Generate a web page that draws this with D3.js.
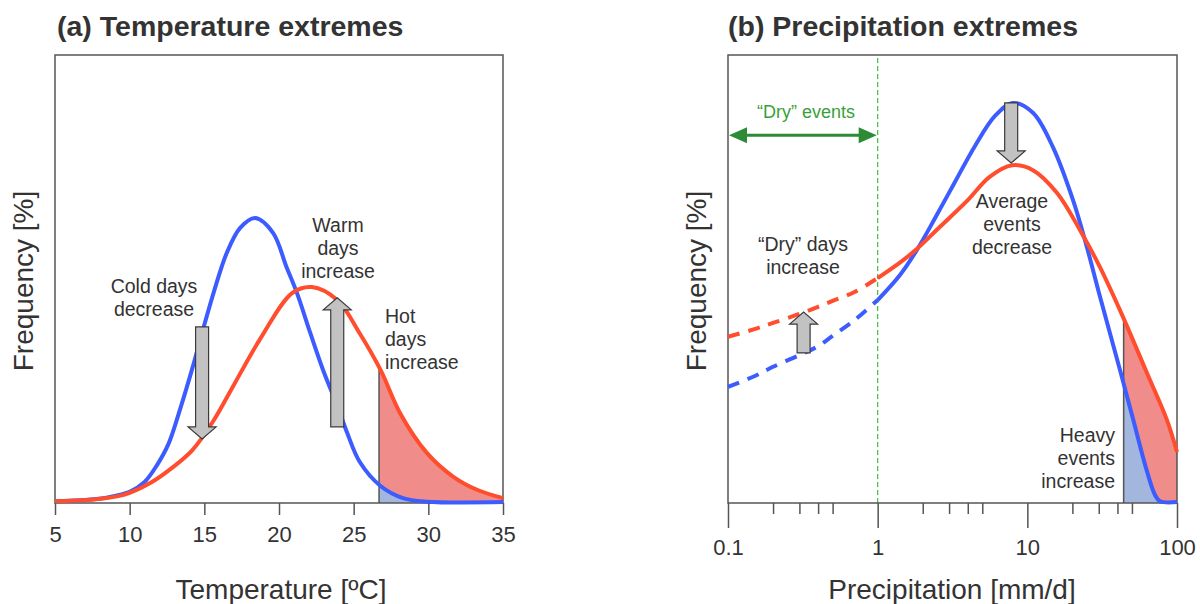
<!DOCTYPE html>
<html>
<head>
<meta charset="utf-8">
<script src="https://cdn.jsdelivr.net/npm/d3@7"></script>
<style>
  body { margin:0; background:#fff; }
  svg text { font-family: "Liberation Sans", Arial, sans-serif; fill:#333; }
</style>
</head>
<body>
<svg id="drawing_region"></svg>
<script>
// (a) temperature
const tempTicks = [5, 10, 15, 20, 25, 30, 35];
const tempBlueT = [5, 7.8, 9.0, 10.0, 11.0, 11.8, 12.6, 13.4, 14.2, 14.9, 15.7, 16.5, 17.4, 18.4, 19.6, 20.5, 21.2, 22.1, 22.95, 23.9, 24.55, 25.4, 26.8, 28.3, 29.9, 35];
const tempBlueF = [0.04, 0.09, 0.16, 0.25, 0.47, 0.83, 1.32, 2.12, 3.01, 3.86, 4.78, 5.58, 6.14, 6.36, 6.03, 5.27, 4.69, 3.79, 2.97, 2.17, 1.58, 0.92, 0.38, 0.11, 0.03, 0.02];
const tempRedT = [5, 7.3, 9.6, 11.4, 12.9, 14.2, 15.6, 16.9, 18.7, 20.9, 22.2, 23.9, 25.4, 26.8, 28.1, 29.9, 31.7, 33.3, 35];
const tempRedF = [0.04, 0.07, 0.18, 0.45, 0.80, 1.18, 1.83, 2.59, 3.64, 4.69, 4.82, 4.53, 3.79, 2.97, 2.01, 1.12, 0.58, 0.29, 0.11];
const tempHot = 26.7;
const tempArrowT = [14.85, 23.9];
const tempArrowFrom = [3.93, 1.70];
const tempArrowTo = [1.43, 4.58];

// (b) precipitation
const precipTicks = [0.1, 1, 10, 100];
const precipMinor = [0.2, 0.3, 0.4, 0.5, 2, 3, 4, 5, 20, 30, 40, 50];
const precipDryP = [0.1, 0.15, 0.2, 0.3, 0.4, 0.5, 0.7, 1];
const precipBlueDryF = [2.59, 2.83, 3.04, 3.30, 3.50, 3.73, 4.08, 4.53];
const precipRedDryF = [3.71, 3.88, 4.02, 4.22, 4.38, 4.51, 4.71, 5.02];
const precipBlueP = [1, 1.41, 1.83, 2.42, 3.29, 4.47, 6.08, 8.0, 10.9, 14.8, 20.2, 25, 30.5, 41.6, 50.8, 63, 71.3, 77, 100];
const precipBlueF = [4.53, 5.09, 5.65, 6.36, 7.17, 7.97, 8.64, 8.93, 8.71, 7.95, 6.76, 5.71, 4.62, 2.97, 1.88, 0.71, 0.18, 0.04, 0.02];
const precipRedP = [1, 1.4, 1.8, 2.6, 4.0, 5.6, 7.9, 10.9, 15.8, 22.5, 30.5, 43.6, 63, 85.7, 100];
const precipRedF = [5.02, 5.36, 5.65, 6.16, 6.76, 7.28, 7.54, 7.43, 6.92, 6.09, 5.27, 4.15, 2.90, 1.85, 1.14];
const precipHeavy = 44;
const precipArrowP = [0.32, 7.8];
const precipArrowFrom = [3.35, 8.93];
const precipArrowTo = [4.26, 7.59];
const dryRange = [0.1, 1];
const dryLevel = 8.21;

const BLUE = '#3c5cff', RED = '#ff4d2d';
const BLUE_FILL = '#a3b6de', RED_FILL = '#f08d8b';
const FRAME = '#555';

const zip = ( xs, ys ) => xs.map( ( x, i ) => [ x, ys[i] ] );

const svg = d3.select( '#drawing_region' )
    .attr( 'width', 1200 )
    .attr( 'height', 604 );
const defs = svg.append( 'defs' );

function blockArrow( g, x, y0, y1 ) {
    const w = 6.5, hw = 14, hl = 12;
    const dir = y1 > y0 ? 1 : -1;
    const yb = y1 - dir * hl;
    const pts = [ [x-w,y0], [x+w,y0], [x+w,yb], [x+hw,yb], [x,y1], [x-hw,yb], [x-w,yb] ];
    g.append( 'polygon' )
        .attr( 'points', pts.map( p => p.join( ',' ) ).join( ' ' ) )
        .attr( 'fill', '#c2c2c2' )
        .attr( 'stroke', '#3a3a3a' )
        .attr( 'stroke-width', 1.2 );
}

function multiText( g, lines, x, y, anchor, size, color ) {
    lines.forEach( ( s, i ) => {
        g.append( 'text' )
            .attr( 'x', x )
            .attr( 'y', y + i * 23 )
            .attr( 'text-anchor', anchor )
            .style( 'font-size', size + 'px' )
            .style( 'fill', color || '#333' )
            .text( s );
    } );
}

function drawPanel( cfg ) {
    const { id, xscale, yscale, curves, threshold } = cfg;
    const g = svg.append( 'g' );
    const [x0, x1] = xscale.range();
    const [y0, y1] = yscale.range();   // bottom, top
    const curve = d3.curveCatmullRom.alpha( 0.5 );

    const line = d3.line()
        .x( d => xscale( d[0] ) )
        .y( d => yscale( d[1] ) )
        .curve( curve );
    const area = d3.area()
        .x( d => xscale( d[0] ) )
        .y0( yscale( 0 ) )
        .y1( d => yscale( d[1] ) )
        .curve( curve );

    // tail shading
    defs.append( 'clipPath' ).attr( 'id', id + '_tail' )
        .append( 'rect' )
        .attr( 'x', xscale( threshold ) ).attr( 'y', y1 )
        .attr( 'width', x1 - xscale( threshold ) ).attr( 'height', y0 - y1 );
    defs.append( 'clipPath' ).attr( 'id', id + '_under' )
        .append( 'path' ).attr( 'd', area( cfg.redSolid ) );

    g.append( 'path' ).attr( 'd', area( cfg.redSolid ) )
        .attr( 'fill', RED_FILL ).attr( 'clip-path', `url(#${id}_tail)` );
    g.append( 'path' ).attr( 'd', area( cfg.blueSolid ) )
        .attr( 'fill', BLUE_FILL ).attr( 'clip-path', `url(#${id}_tail)` );
    g.append( 'line' )
        .attr( 'x1', xscale( threshold ) ).attr( 'x2', xscale( threshold ) )
        .attr( 'y1', y0 ).attr( 'y2', y1 )
        .attr( 'stroke', FRAME ).attr( 'stroke-width', 1.5 )
        .attr( 'clip-path', `url(#${id}_under)` );

    if ( cfg.before ) cfg.before( g );

    // frame
    g.append( 'rect' )
        .attr( 'x', x0 ).attr( 'y', y1 )
        .attr( 'width', x1 - x0 ).attr( 'height', y0 - y1 )
        .attr( 'fill', 'none' ).attr( 'stroke', FRAME ).attr( 'stroke-width', 1.5 );

    curves.forEach( c => {
        g.append( 'path' )
            .attr( 'd', line( c.data ) )
            .attr( 'fill', 'none' )
            .attr( 'stroke', c.color )
            .attr( 'stroke-width', 4 )
            .attr( 'stroke-dasharray', c.dash ? '12,9' : null );
    } );

    cfg.arrowX.forEach( ( a, i ) => {
        blockArrow( g, xscale( a ), yscale( cfg.arrowFrom[i] ), yscale( cfg.arrowTo[i] ) );
    } );

    return g;
}

function styleAxis( ag ) {
    ag.select( '.domain' ).remove();
    ag.selectAll( '.tick line' ).attr( 'stroke', FRAME ).attr( 'stroke-width', 1.5 );
    ag.selectAll( '.tick text' )
        .style( 'font-size', '22px' )
        .attr( 'font-family', null );
}

// ---- panel (a)
const xa = d3.scaleLinear().domain( [5, 35] ).range( [55, 503] );
const ya = d3.scaleLinear().domain( [0, 10] ).range( [503, 55] );

const gA = drawPanel( {
    id: 'a', xscale: xa, yscale: ya, threshold: tempHot,
    redSolid: zip( tempRedT, tempRedF ),
    blueSolid: zip( tempBlueT, tempBlueF ),
    curves: [
        { data: zip( tempBlueT, tempBlueF ), color: BLUE },
        { data: zip( tempRedT, tempRedF ), color: RED }
    ],
    arrowX: tempArrowT, arrowFrom: tempArrowFrom, arrowTo: tempArrowTo
} );

gA.append( 'g' )
    .attr( 'transform', 'translate(0,503)' )
    .call( d3.axisBottom( xa ).tickValues( tempTicks ).tickSize( 12 ).tickPadding( 11 ) )
    .call( styleAxis );

multiText( gA, ['Cold days', 'decrease'], 154, 293, 'middle', 19.5 );
multiText( gA, ['Warm', 'days', 'increase'], 338, 232, 'middle', 19.5 );
multiText( gA, ['Hot', 'days', 'increase'], 385, 323, 'start', 19.5 );

gA.append( 'text' ).attr( 'x', 57 ).attr( 'y', 36 )
    .style( 'font-size', '28.5px' ).style( 'font-weight', 'bold' )
    .text( '(a) Temperature extremes' );
gA.append( 'text' ).attr( 'x', 281 ).attr( 'y', 599 )
    .attr( 'text-anchor', 'middle' ).style( 'font-size', '28px' )
    .text( 'Temperature [ºC]' );
gA.append( 'text' ).attr( 'transform', 'translate(33,281) rotate(-90)' )
    .attr( 'text-anchor', 'middle' ).style( 'font-size', '28px' )
    .text( 'Frequency [%]' );

// ---- panel (b)
const xb = d3.scaleLog().domain( [0.1, 100] ).range( [728, 1177] );
const yb = d3.scaleLinear().domain( [0, 10] ).range( [503, 55] );

const gB = drawPanel( {
    id: 'b', xscale: xb, yscale: yb, threshold: precipHeavy,
    redSolid: zip( precipRedP, precipRedF ),
    blueSolid: zip( precipBlueP, precipBlueF ),
    before: g => {
        g.append( 'line' )
            .attr( 'x1', xb( 1 ) ).attr( 'x2', xb( 1 ) )
            .attr( 'y1', yb( 0 ) ).attr( 'y2', yb( 10 ) )
            .attr( 'stroke', '#3cbf3c' ).attr( 'stroke-width', 1.2 )
            .attr( 'stroke-dasharray', '5,3' );
    },
    curves: [
        { data: zip( precipDryP, precipBlueDryF ), color: BLUE, dash: true },
        { data: zip( precipDryP, precipRedDryF ), color: RED, dash: true },
        { data: zip( precipBlueP, precipBlueF ), color: BLUE },
        { data: zip( precipRedP, precipRedF ), color: RED }
    ],
    arrowX: precipArrowP, arrowFrom: precipArrowFrom, arrowTo: precipArrowTo
} );

gB.append( 'g' )
    .attr( 'transform', 'translate(0,503)' )
    .call( d3.axisBottom( xb ).tickValues( precipTicks ).tickSize( 25 ).tickPadding( 11 )
        .tickFormat( d3.format( '~g' ) ) )
    .call( styleAxis );
gB.append( 'g' )
    .attr( 'transform', 'translate(0,503)' )
    .call( d3.axisBottom( xb ).tickValues( precipMinor ).tickSize( 11 ).tickFormat( '' ) )
    .call( styleAxis );

// "Dry" events double arrow
const GREEN = '#2e8b35';
const dx0 = xb( dryRange[0] ), dx1 = xb( dryRange[1] ), dy = yb( dryLevel );
gB.append( 'line' )
    .attr( 'x1', dx0 + 14 ).attr( 'x2', dx1 - 14 )
    .attr( 'y1', dy ).attr( 'y2', dy )
    .attr( 'stroke', GREEN ).attr( 'stroke-width', 3 );
gB.append( 'polygon' )
    .attr( 'points', `${dx0+1},${dy} ${dx0+19},${dy-8} ${dx0+19},${dy+8}` )
    .attr( 'fill', GREEN );
gB.append( 'polygon' )
    .attr( 'points', `${dx1-1},${dy} ${dx1-19},${dy-8} ${dx1-19},${dy+8}` )
    .attr( 'fill', GREEN );
multiText( gB, ['\u201cDry\u201d events'], 806, 118, 'middle', 18, '#3a9f3a' );

multiText( gB, ['\u201cDry\u201d days', 'increase'], 803, 251, 'middle', 19.5 );
multiText( gB, ['Average', 'events', 'decrease'], 1012, 208, 'middle', 19.5 );
multiText( gB, ['Heavy', 'events', 'increase'], 1115, 442, 'end', 19.5 );

gB.append( 'text' ).attr( 'x', 728 ).attr( 'y', 36 )
    .style( 'font-size', '28.5px' ).style( 'font-weight', 'bold' )
    .text( '(b) Precipitation extremes' );
gB.append( 'text' ).attr( 'x', 952 ).attr( 'y', 599 )
    .attr( 'text-anchor', 'middle' ).style( 'font-size', '28px' )
    .text( 'Precipitation [mm/d]' );
gB.append( 'text' ).attr( 'transform', 'translate(706,281) rotate(-90)' )
    .attr( 'text-anchor', 'middle' ).style( 'font-size', '28px' )
    .text( 'Frequency [%]' );
</script>
</body>
</html>
